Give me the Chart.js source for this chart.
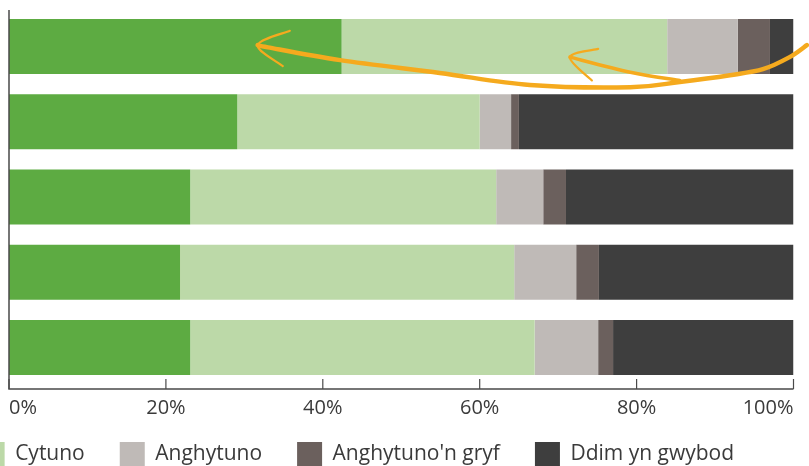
<!DOCTYPE html>
<html>
<head>
<meta charset="utf-8">
<script src="https://cdn.jsdelivr.net/npm/chart.js@4.4.1/dist/chart.umd.min.js"></script>
<style>
  html, body { margin: 0; padding: 0; background: #ffffff; overflow: hidden; width: 809px; height: 466px; }
  #wrap { position: relative; width: 809px; height: 466px; overflow: hidden; }
  #c { position: absolute; left: -256px; top: 0; }
</style>
</head>
<body>
<div id="wrap"><canvas id="c" width="1065" height="477"></canvas></div>
<script>
// ---- data ----
const categories = ['1', '2', '3', '4', '5'];
const seriesNames = ["Cytuno'n gryf", 'Cytuno', 'Anghytuno', "Anghytuno'n gryf", 'Ddim yn gwybod'];
const cytunoGryf    = [42.4, 29.1, 23.1, 21.8, 23.1];
const cytuno        = [41.5, 30.9, 39.0, 42.6, 43.9];
const anghytuno     = [9.0, 4.0, 6.0, 7.9, 8.1];
const anghytunoGryf = [4.1, 1.0, 2.9, 2.9, 1.9];
const ddimGwybod    = [3.0, 35.0, 29.0, 24.8, 23.0];
const xTicks = [0, 20, 40, 60, 80, 100];
const seriesColors = ['#5dab42', '#bcd9a8', '#bfbab7', '#6b605d', '#3e3e3e'];

// annotation arrows, in data space: [percent, category index]
const arrowCurve = [[101.7, -0.02], [99.5, 0.14], [96.1, 0.30], [91.9, 0.38], [85.5, 0.47], [79.2, 0.54], [66.4, 0.51], [54.9, 0.35], [42.2, 0.18], [33.0, 0.01], [31.7, -0.02]];
const arrowHead1 = [[35.8, -0.21], [31.7, -0.02], [34.9, 0.26]];
const arrowBranch = [[85.5, 0.45], [79.2, 0.34], [71.5, 0.14]];
const arrowHead2 = [[75.1, 0.03], [71.5, 0.14], [74.3, 0.45]];

const seriesData = [cytunoGryf, cytuno, anghytuno, anghytunoGryf, ddimGwybod];

const axisPlugin = {
  id: 'axisPlugin',
  afterDraw(chart) {
    const ctx = chart.ctx;
    const xs = chart.scales.x, ys = chart.scales.y;
    const a = chart.chartArea;
    const base = a.bottom + 4;
    ctx.save();
    ctx.strokeStyle = '#4a4a4a';
    ctx.lineWidth = 1.5;
    ctx.beginPath();
    ctx.moveTo(a.left, a.top + 1);
    ctx.lineTo(a.left, base);
    ctx.lineTo(xs.getPixelForValue(100), base);
    ctx.stroke();
    ctx.lineWidth = 1.2;
    xTicks.forEach(v => {
      const px = xs.getPixelForValue(v);
      ctx.beginPath();
      ctx.moveTo(px, base - 10);
      ctx.lineTo(px, base);
      ctx.stroke();
    });
    // arrows
    const toPx = p => [xs.getPixelForValue(p[0]), ys.getPixelForValue(p[1])];
    function smooth(points, width) {
      const pts = points.map(toPx);
      ctx.beginPath();
      ctx.moveTo(pts[0][0], pts[0][1]);
      for (let i = 0; i < pts.length - 1; i++) {
        const p0 = pts[Math.max(i - 1, 0)], p1 = pts[i], p2 = pts[i + 1], p3 = pts[Math.min(i + 2, pts.length - 1)];
        const c1x = p1[0] + (p2[0] - p0[0]) / 6, c1y = p1[1] + (p2[1] - p0[1]) / 6;
        const c2x = p2[0] - (p3[0] - p1[0]) / 6, c2y = p2[1] - (p3[1] - p1[1]) / 6;
        ctx.bezierCurveTo(c1x, c1y, c2x, c2y, p2[0], p2[1]);
      }
      ctx.lineWidth = width;
      ctx.stroke();
    }
    ctx.strokeStyle = '#f5aa1e';
    ctx.lineCap = 'round';
    ctx.lineJoin = 'round';
    smooth(arrowCurve, 4.5);
    smooth(arrowBranch, 3.5);
    smooth(arrowHead1, 2.2);
    smooth(arrowHead2, 2.2);
    ctx.restore();
  }
};

new Chart(document.getElementById('c'), {
  type: 'bar',
  data: {
    labels: categories,
    datasets: seriesNames.map((name, i) => ({
      label: name,
      data: seriesData[i],
      backgroundColor: seriesColors[i],
      borderWidth: 0,
      barPercentage: 0.731,
      categoryPercentage: 1.0
    }))
  },
  options: {
    indexAxis: 'y',
    responsive: false,
    animation: false,
    layout: { padding: { left: 0, right: 15.5, top: 9, bottom: 0 } },
    scales: {
      x: {
        stacked: true,
        min: 0, max: 100,
        afterBuildTicks: s => { s.ticks = xTicks.map(v => ({ value: v })); },
        afterFit: s => { s.height = 22; },
        grid: { display: false, drawTicks: false },
        border: { display: false },
        ticks: {
          mirror: true,
          padding: -35,
          align: 'inner',
          maxRotation: 0,
          color: '#3a3a3a',
          font: { family: 'Open Sans', size: 20 },
          callback: v => v + '%'
        }
      },
      y: {
        stacked: true,
        afterFit: s => { s.width = 265; },
        grid: { display: false, drawTicks: false },
        border: { display: false },
        ticks: { display: false }
      }
    },
    plugins: {
      tooltip: { enabled: false },
      legend: {
        position: 'bottom',
        align: 'start',
        labels: {
          boxWidth: 25,
          boxHeight: 25,
          padding: 35,
          color: '#3a3a3a',
          font: { family: 'Open Sans', size: 21 }
        }
      }
    }
  },
  plugins: [axisPlugin]
});
</script>
</body>
</html>
